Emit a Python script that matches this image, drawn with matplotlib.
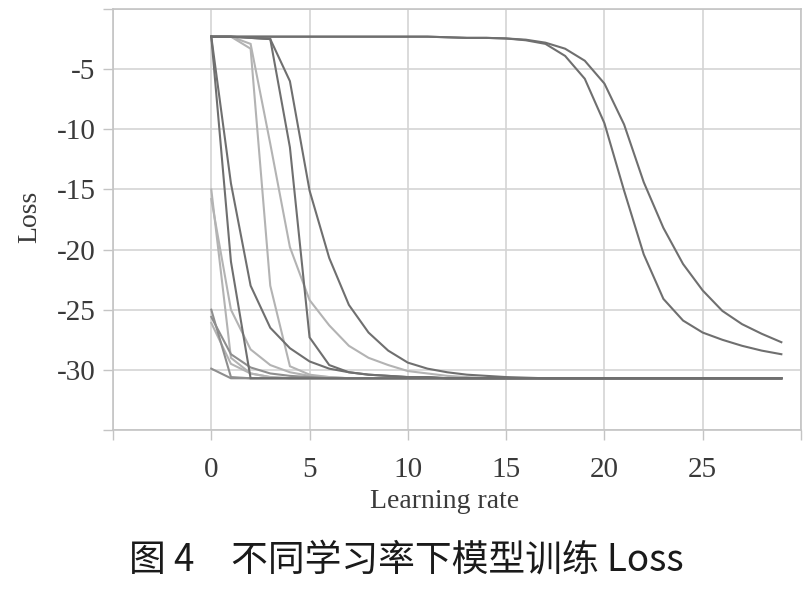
import matplotlib
matplotlib.use("Agg")
import matplotlib.pyplot as plt

# ---------------- data ----------------
epochs = list(range(30))

late_a = [-2.3, -2.3, -2.3, -2.3, -2.3, -2.3, -2.3, -2.3, -2.3, -2.3,
          -2.3, -2.3, -2.35, -2.4, -2.4, -2.45, -2.6, -2.9, -3.9, -5.8,
          -9.5, -15.1, -20.4, -24.1, -25.9, -26.9, -27.5, -28.0, -28.4, -28.7]
late_b = [-2.3, -2.3, -2.3, -2.3, -2.3, -2.3, -2.3, -2.3, -2.3, -2.3,
          -2.3, -2.3, -2.35, -2.4, -2.4, -2.45, -2.55, -2.8, -3.3, -4.3,
          -6.2, -9.6, -14.4, -18.2, -21.2, -23.4, -25.1, -26.2, -27.0, -27.7]
dark_1 = [-2.3, -14.5, -23.0, -26.5, -28.2, -29.3, -29.9, -30.2, -30.4, -30.5,
          -30.6, -30.6, -30.7, -30.7, -30.7, -30.7, -30.7, -30.7, -30.7, -30.7,
          -30.7, -30.7, -30.7, -30.7, -30.7, -30.7, -30.7, -30.7, -30.7, -30.7]
dark_2 = [-2.3, -21.0, -30.7, -30.7, -30.7, -30.7, -30.7, -30.7, -30.7, -30.7,
          -30.7, -30.7, -30.7, -30.7, -30.7, -30.7, -30.7, -30.7, -30.7, -30.7,
          -30.7, -30.7, -30.7, -30.7, -30.7, -30.7, -30.7, -30.7, -30.7, -30.7]
dark_3 = [-2.3, -2.3, -2.4, -2.5, -11.5, -27.3, -29.6, -30.2, -30.4, -30.5,
          -30.6, -30.6, -30.7, -30.7, -30.7, -30.7, -30.7, -30.7, -30.7, -30.7,
          -30.7, -30.7, -30.7, -30.7, -30.7, -30.7, -30.7, -30.7, -30.7, -30.7]
dark_4 = [-2.3, -2.3, -2.4, -2.5, -6.0, -15.1, -20.7, -24.6, -26.9, -28.4,
          -29.4, -29.9, -30.2, -30.4, -30.5, -30.6, -30.65, -30.7, -30.7, -30.7,
          -30.7, -30.7, -30.7, -30.7, -30.7, -30.7, -30.7, -30.7, -30.7, -30.7]
light_1 = [-15.0, -29.0, -30.3, -30.6, -30.7, -30.7, -30.7, -30.7, -30.7, -30.7,
           -30.7, -30.7, -30.7, -30.7, -30.7, -30.7, -30.7, -30.7, -30.7, -30.7,
           -30.7, -30.7, -30.7, -30.7, -30.7, -30.7, -30.7, -30.7, -30.7, -30.7]
light_2 = [-15.8, -25.0, -28.3, -29.6, -30.2, -30.5, -30.6, -30.7, -30.7, -30.7,
           -30.7, -30.7, -30.7, -30.7, -30.7, -30.7, -30.7, -30.7, -30.7, -30.7,
           -30.7, -30.7, -30.7, -30.7, -30.7, -30.7, -30.7, -30.7, -30.7, -30.7]
light_3 = [-2.3, -2.3, -3.3, -23.0, -29.7, -30.4, -30.6, -30.7, -30.7, -30.7,
           -30.7, -30.7, -30.7, -30.7, -30.7, -30.7, -30.7, -30.7, -30.7, -30.7,
           -30.7, -30.7, -30.7, -30.7, -30.7, -30.7, -30.7, -30.7, -30.7, -30.7]
light_4 = [-2.3, -2.3, -2.9, -11.2, -19.8, -24.2, -26.3, -28.0, -29.0, -29.6,
           -30.1, -30.3, -30.5, -30.6, -30.7, -30.7, -30.7, -30.7, -30.7, -30.7,
           -30.7, -30.7, -30.7, -30.7, -30.7, -30.7, -30.7, -30.7, -30.7, -30.7]
mid_1 = [-25.0, -30.6, -30.7, -30.7, -30.7, -30.7, -30.7, -30.7, -30.7, -30.7,
         -30.7, -30.7, -30.7, -30.7, -30.7, -30.7, -30.7, -30.7, -30.7, -30.7,
         -30.7, -30.7, -30.7, -30.7, -30.7, -30.7, -30.7, -30.7, -30.7, -30.7]
mid_2 = [-25.6, -28.7, -29.8, -30.3, -30.5, -30.6, -30.7, -30.7, -30.7, -30.7,
         -30.7, -30.7, -30.7, -30.7, -30.7, -30.7, -30.7, -30.7, -30.7, -30.7,
         -30.7, -30.7, -30.7, -30.7, -30.7, -30.7, -30.7, -30.7, -30.7, -30.7]
light_5 = [-26.1, -29.5, -30.3, -30.6, -30.7, -30.7, -30.7, -30.7, -30.7, -30.7,
           -30.7, -30.7, -30.7, -30.7, -30.7, -30.7, -30.7, -30.7, -30.7, -30.7,
           -30.7, -30.7, -30.7, -30.7, -30.7, -30.7, -30.7, -30.7, -30.7, -30.7]
mid_3 = [-29.9, -30.7, -30.7, -30.7, -30.7, -30.7, -30.7, -30.7, -30.7, -30.7,
         -30.7, -30.7, -30.7, -30.7, -30.7, -30.7, -30.7, -30.7, -30.7, -30.7,
         -30.7, -30.7, -30.7, -30.7, -30.7, -30.7, -30.7, -30.7, -30.7, -30.7]

x_ticks = [-5, 0, 5, 10, 15, 20, 25, 30]
x_tick_labels = ["", "0", "5", "10", "15", "20", "25", ""]
y_ticks = [-35, -30, -25, -20, -15, -10, -5, 0]
y_tick_labels = ["", "-30", "-25", "-20", "-15", "-10", "-5", ""]

x_label = "Learning rate"
y_label = "Loss"
caption = "图 4\u3000不同学习率下模型训练 Loss"

# ---------------- styles ----------------
LIGHT = "#b3b3b3"
MID = "#8e8e8e"
DARK = "#6f6f6f"
GRID = "#d4d4d4"
SPINE = "#c4c4c4"
TXT = "#3a3a3a"

series = [
    (light_1, LIGHT), (light_2, LIGHT), (light_3, LIGHT), (light_4, LIGHT),
    (light_5, LIGHT), (mid_1, MID), (mid_2, MID), (mid_3, MID),
    (dark_1, DARK), (dark_2, DARK), (dark_3, DARK), (dark_4, DARK),
    (late_a, DARK), (late_b, DARK),
]

W, H = 809, 594
fig = plt.figure(figsize=(W / 100, H / 100), dpi=100)
fig.patch.set_facecolor("white")

L, R, T, B = 113, 801, 9, 430
ax = fig.add_axes([L / W, 1 - B / H, (R - L) / W, (B - T) / H])

for ys, col in series:
    ax.plot(epochs, ys, color=col, lw=1.5, solid_joinstyle="miter", zorder=3)

ax.set_xlim(-5, 30)
ax.set_ylim(-35, 0)
ax.set_xticks(x_ticks)
ax.set_xticklabels(x_tick_labels)
ax.set_yticks(y_ticks)
ax.set_yticklabels(y_tick_labels)
ax.grid(True, color=GRID, lw=1.2, zorder=0)
for s in ax.spines.values():
    s.set_color(SPINE)
    s.set_linewidth(1.2)
ax.tick_params(axis="both", direction="out", length=7.5, width=1.0,
               color=SPINE, labelcolor=TXT, labelsize=21)
ax.tick_params(axis="x", pad=12)
ax.tick_params(axis="y", pad=5)
for lab in ax.get_xticklabels() + ax.get_yticklabels():
    lab.set_family("Liberation Serif")

fig.text(445 / W, 1 - 501 / H, x_label, ha="center", va="center",
         fontsize=20, family="Liberation Serif", color=TXT)
fig.text(30 / W, 1 - 217 / H, y_label, ha="center", va="center",
         rotation=90, fontsize=20, family="Liberation Serif", color=TXT)
fig.text(129 / W, 1 - 560 / H, caption, ha="left", va="center",
         fontsize=26.5, fontweight="medium",
         family=["Noto Sans CJK SC", "DejaVu Sans"], color="#1a1a1a")

fig.savefig("out.png", dpi=100, facecolor="white")
